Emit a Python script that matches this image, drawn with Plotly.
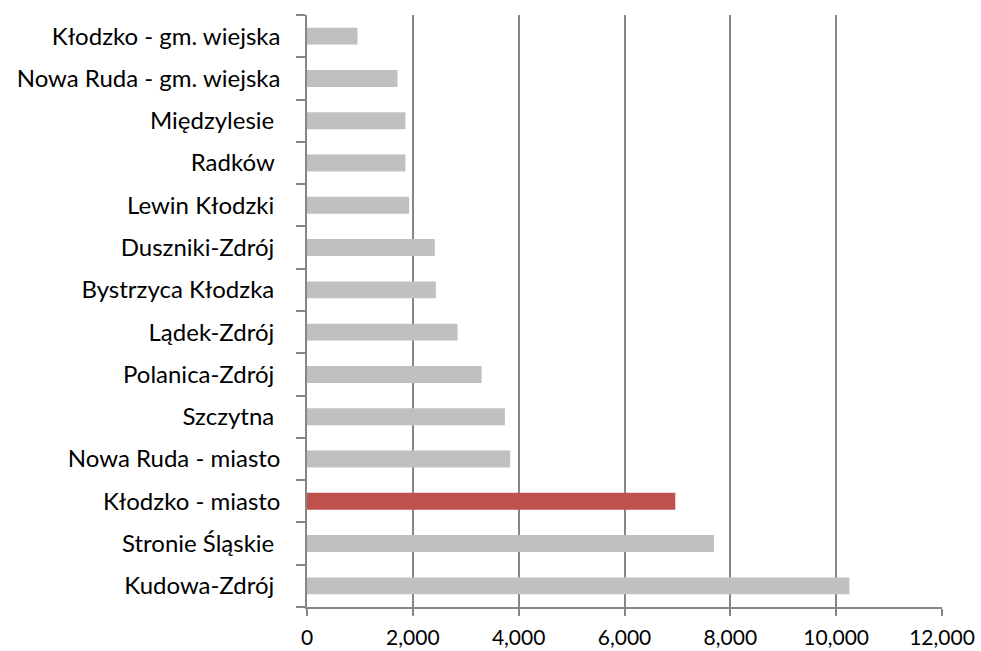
import plotly.graph_objects as go

NB = "\u00a0"
categories = [
    "Kudowa-Zdrój" + NB,
    "Stronie Śląskie" + NB,
    "Kłodzko - miasto",
    "Nowa Ruda - miasto",
    "Szczytna" + NB,
    "Polanica-Zdrój" + NB,
    "Lądek-Zdrój" + NB,
    "Bystrzyca Kłodzka" + NB,
    "Duszniki-Zdrój" + NB,
    "Lewin Kłodzki" + NB,
    "Radków" + NB,
    "Międzylesie" + NB,
    "Nowa Ruda - gm. wiejska",
    "Kłodzko - gm. wiejska",
]
values = [10250, 7690, 6960, 3840, 3740, 3300, 2845, 2435, 2415, 1930, 1860, 1860, 1710, 955]
highlight = "Kłodzko - miasto"

colors = ["#C0504D" if c == highlight else "#C0C0C0" for c in categories]

x_ticks = [0, 2000, 4000, 6000, 8000, 10000, 12000]
x_tick_labels = ["0", "2,000", "4,000", "6,000", "8,000", "10,000", "12,000"]

fig = go.Figure(
    go.Bar(
        x=values,
        y=categories,
        orientation="h",
        marker=dict(color=colors, line=dict(width=0)),
        hoverinfo="x+y",
    )
)

fig.update_layout(
    width=981,
    height=651,
    margin=dict(l=307, r=39, t=15, b=44, autoexpand=False),
    paper_bgcolor="white",
    plot_bgcolor="white",
    bargap=0.6,
    showlegend=False,
    font=dict(family="Lato, 'Open Sans', sans-serif", size=24, color="#000000"),
    xaxis=dict(
        range=[0, 12000],
        tickvals=x_ticks,
        ticktext=x_tick_labels,
        showgrid=True,
        gridcolor="#868686",
        gridwidth=1.5,
        zeroline=False,
        showline=True,
        linecolor="#868686",
        linewidth=1.5,
        ticks="outside",
        ticklen=7,
        tickcolor="#868686",
        tickwidth=1.5,
        ticklabelstandoff=4,
        tickfont=dict(size=21),
        automargin=False,
    ),
    yaxis=dict(
        showgrid=False,
        zeroline=False,
        showline=True,
        linecolor="#868686",
        linewidth=1.5,
        ticks="outside",
        ticklen=9,
        tickcolor="#868686",
        tickwidth=1.5,
        tickson="boundaries",
        ticklabelstandoff=20,
        tickfont=dict(size=24),
        automargin=False,
    ),
)

fig.write_html(
    "out.html",
    config={"displayModeBar": False},
    post_script="document.body.style.margin='0';document.body.style.overflow='hidden';",
)
